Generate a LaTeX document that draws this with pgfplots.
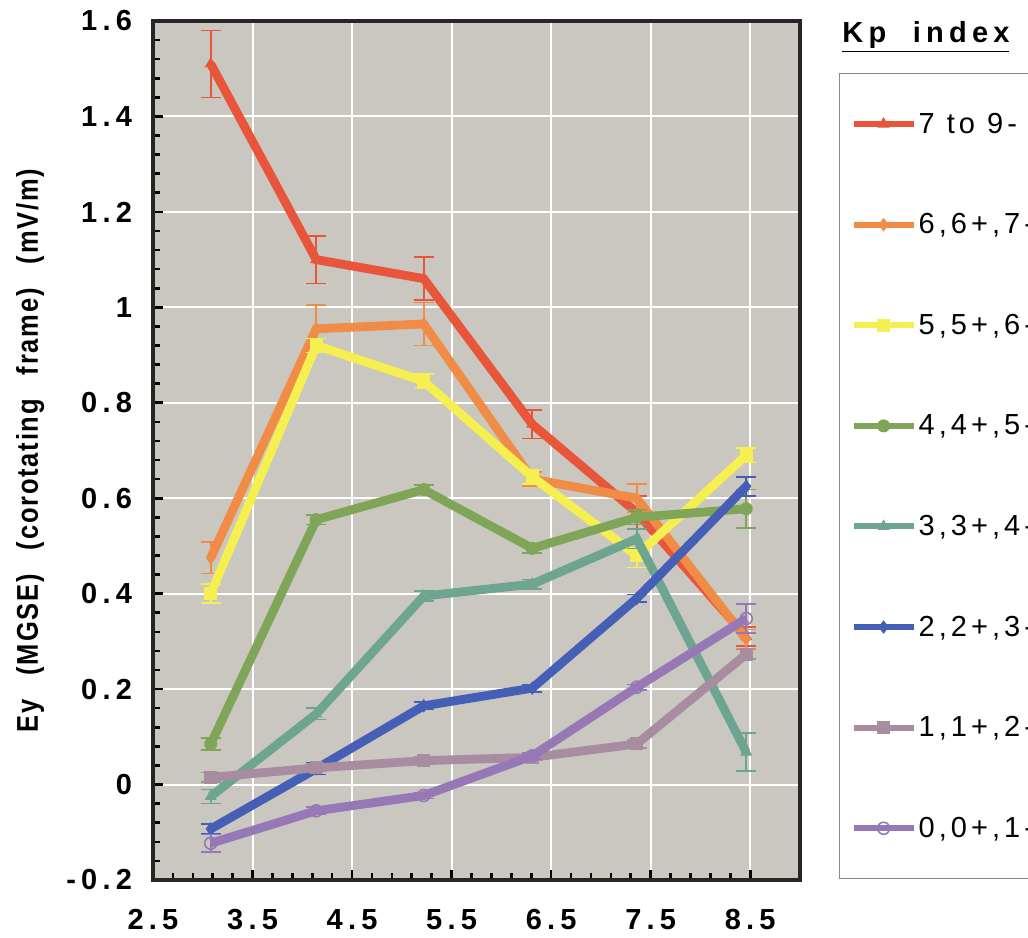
\documentclass[border=0pt]{standalone}
\usepackage{fontspec}
\usepackage{pgfplots}
\pgfplotsset{compat=1.18}
\setmainfont{Liberation Sans}
\newfontfamily\tickfont[LetterSpace=18]{Liberation Sans}
\newfontfamily\legfont[LetterSpace=14]{Liberation Sans}
\newfontfamily\labfont[LetterSpace=6,FakeStretch=0.85]{Liberation Sans}
\definecolor{bgGray}{RGB}{201,199,192}
\definecolor{cRed}{RGB}{232,85,58}
\definecolor{cOrange}{RGB}{240,140,70}
\definecolor{cYellow}{RGB}{245,240,80}
\definecolor{cGreen}{RGB}{128,165,88}
\definecolor{cTeal}{RGB}{110,165,145}
\definecolor{cBlue}{RGB}{70,95,182}
\definecolor{cMauve}{RGB}{168,140,160}
\definecolor{cPurple}{RGB}{150,120,182}

\pgfplotstableread{
x y e
3.08 1.51 0.07
4.14 1.10 0.05
5.22 1.06 0.045
6.31 0.755 0.03
7.36 0.57 0.035
8.46 0.31 0.02
}\tRed
\pgfplotstableread{
x y e
3.08 0.475 0.033
4.14 0.955 0.05
5.22 0.965 0.045
6.31 0.64 0.015
7.36 0.60 0.03
8.46 0.305 0.02
}\tOrange
\pgfplotstableread{
x y e
3.08 0.40 0.02
4.14 0.92 0.015
5.22 0.845 0.015
6.31 0.645 0.015
7.36 0.48 0.025
8.46 0.69 0.015
}\tYellow
\pgfplotstableread{
x y e
3.08 0.085 0.012
4.14 0.555 0.01
5.22 0.618 0.01
6.31 0.495 0.01
7.36 0.56 0.015
8.46 0.578 0.04
}\tGreen
\pgfplotstableread{
x y e
3.08 -0.025 0.015
4.14 0.148 0.012
5.22 0.395 0.01
6.31 0.42 0.01
7.36 0.515 0.02
8.46 0.068 0.04
}\tTeal
\pgfplotstableread{
x y e
3.08 -0.093 0.01
4.14 0.033 0.012
5.22 0.165 0.008
6.31 0.202 0.008
7.36 0.39 0.008
8.46 0.625 0.02
}\tBlue
\pgfplotstableread{
x y e
3.08 0.015 0.01
4.14 0.035 0.008
5.22 0.05 0.008
6.31 0.057 0.006
7.36 0.085 0.008
8.46 0.273 0.01
}\tMauve
\pgfplotstableread{
x y e
3.08 -0.123 0.018
4.14 -0.055 0.008
5.22 -0.023 0.006
6.31 0.06 0.006
7.36 0.204 0.006
8.46 0.348 0.03
}\tPurple

\begin{document}
\begin{tikzpicture}
\path[use as bounding box] (-76.5pt,-28.5pt) rectangle (437.5pt,440pt);
\begin{axis}[
  scale only axis, width=323.5pt, height=429.5pt,
  at={(0,0)}, anchor=south west,
  xmin=2.5, xmax=9, ymin=-0.2, ymax=1.6,
  axis background/.style={fill=bgGray},
  axis line style={line width=1.7pt, black!85},
  xtick={2.5,3.5,4.5,5.5,6.5,7.5,8.5},
  xticklabels={2.5,3.5,4.5,5.5,6.5,7.5,8.5},
  ytick={-0.2,0,0.2,0.4,0.6,0.8,1,1.2,1.4,1.6},
  yticklabels={-0.2,0,0.2,0.4,0.6,0.8,1,1.2,1.4,1.6},
  minor x tick num=4, minor y tick num=4,
  tick align=inside, tick pos=left,
  major tick length=5pt, minor tick length=3.5pt,
  every tick/.style={black, line width=1.3pt},
  grid=major, major grid style={white, line width=1pt},
  ticklabel style={font=\tickfont\bfseries\fontsize{14.5}{17}\selectfont},
  xticklabel style={yshift=-11pt},
  yticklabel style={xshift=-7pt},
  ylabel={\labfont\bfseries\fontsize{15}{18}\selectfont Ey\hspace{0.8em}(MGSE)\hspace{0.8em}(corotating\hspace{0.8em}frame)\hspace{0.8em}(mV/m)},
  ylabel style={at={(axis description cs:-0.19,0.5)}, anchor=center},
  clip mode=individual,
  legend cell align=left,
  legend style={at={(axis description cs:1.0603,0.9395)}, anchor=north west,
    draw=black!45, line width=0.6pt, fill=white,
    inner xsep=5.5pt, inner ysep=18.75pt, row sep=37.3pt, column sep=1pt,
    font=\legfont\fontsize{14.5}{17}\selectfont,
    nodes={inner sep=0pt, text height=11pt, text depth=2pt}},
  legend image code/.code={\draw[mark repeat=2,mark phase=2,line width=3pt] plot coordinates {(0pt,0pt) (15pt,0pt) (30pt,0pt)};},
  every axis plot/.append style={line width=4.4pt, mark size=3pt,
    error bars/y dir=both, error bars/y explicit,
    error bars/error bar style={line width=0.8pt},
    error bars/error mark options={rotate=90, mark size=5pt, line width=0.8pt}},
]
\addplot[color=cRed, mark=triangle*, mark options={line width=0.5pt}] table[x=x,y=y,y error=e] {\tRed};
\addlegendentry{7 to 9-}
\addplot[color=cOrange, mark=diamond*, mark options={line width=0.5pt}] table[x=x,y=y,y error=e] {\tOrange};
\addlegendentry{6,6+,7-}
\addplot[color=cYellow, mark=square*, mark options={line width=0.5pt}] table[x=x,y=y,y error=e] {\tYellow};
\addlegendentry{5,5+,6-}
\addplot[color=cGreen, mark=*, mark options={line width=0.5pt}] table[x=x,y=y,y error=e] {\tGreen};
\addlegendentry{4,4+,5-}
\addplot[color=cTeal, mark=triangle*, mark options={line width=0.5pt}] table[x=x,y=y,y error=e] {\tTeal};
\addlegendentry{3,3+,4-}
\addplot[color=cBlue, mark=diamond*, mark options={line width=0.5pt}] table[x=x,y=y,y error=e] {\tBlue};
\addlegendentry{2,2+,3-}
\addplot[color=cMauve, mark=square*, mark options={line width=0.5pt}] table[x=x,y=y,y error=e] {\tMauve};
\addlegendentry{1,1+,2-}
\addplot[color=cPurple, mark=o, mark options={line width=0.8pt}] table[x=x,y=y,y error=e] {\tPurple};
\addlegendentry{0,0+,1-}
\node at (axis description cs:1.1947,0.9814) {\tickfont\bfseries\fontsize{14.5}{17}\selectfont\underline{Kp\ \ index}};
\end{axis}
\end{tikzpicture}
\end{document}
